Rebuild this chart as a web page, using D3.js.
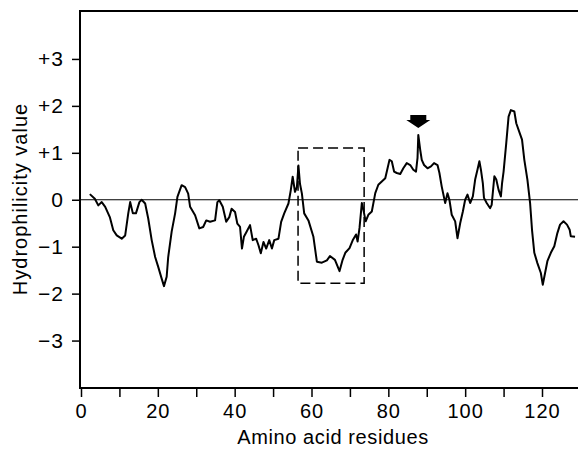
<!DOCTYPE html>
<html lang="en">
<head>
    <meta charset="UTF-8">
    <title>Hydrophilicity plot</title>
    <style>
        body { margin: 0; background: #fff; }
        text { font-family: "Liberation Sans", Arial, Helvetica, sans-serif; fill: #000; }
    </style>
</head>
<body>
<script src="https://d3js.org/d3.v7.min.js"></script>

<div id="my_data"></div>

<script type="text/javascript">

    // residue position (x) and hydrophilicity value (y)
    var residues = [
        2.3, 3.6, 4.5, 5.4, 6.3, 7.5, 8.4, 9.3, 10.6, 11.5, 12.3, 12.8, 13.5, 14.3, 15.2, 15.8,
        16.7, 17.5, 18.4, 19.3, 20.1, 21.0, 21.6, 22.3, 22.7, 23.6, 24.5, 25.1, 26.2, 27.1,
        27.9, 28.4, 29.7, 30.8, 31.8, 32.6, 33.6, 34.9, 35.5, 36.0, 36.9, 37.8, 38.6, 39.2,
        40.1, 40.7, 41.4, 41.9, 42.4, 43.1, 44.0, 44.7, 45.6, 46.2, 46.8, 47.5, 48.2, 49.0,
        49.7, 50.3, 51.4, 52.1, 52.9, 54.0, 54.6, 55.1, 55.7, 56.2, 56.6, 57.0, 57.5, 58.1,
        59.2, 60.5, 61.4, 62.7, 64.0, 64.8, 66.1, 67.3, 68.1, 68.8, 69.9, 70.8, 71.6, 72.0,
        72.5, 73.1, 73.5, 74.1, 74.8, 75.7, 76.6, 77.4, 78.3, 79.2, 79.8, 80.3, 80.9, 81.5,
        82.2, 83.1, 83.9, 84.8, 85.7, 86.5, 87.2, 87.6, 87.8, 88.3, 88.7, 89.3, 90.2, 91.1,
        91.9, 92.8, 93.3, 93.9, 94.8, 95.4, 95.9, 96.5, 97.4, 98.0, 98.7, 99.4, 100.0, 100.6,
        101.3, 102.0, 102.6, 103.2, 103.7, 104.1, 104.6, 104.9, 105.6, 106.5, 106.9, 107.6,
        108.1, 108.7, 109.3, 109.6, 110.0, 110.7, 111.3, 111.9, 112.8, 113.3, 114.2, 114.8,
        115.4, 116.2, 116.9, 117.4, 118.0, 118.8, 119.7, 120.2, 120.8, 121.4, 122.3, 123.2,
        124.0, 124.7, 125.6, 126.5, 127.2, 127.5, 128.6
    ];
    var values = [
        0.12, 0.02, -0.12, -0.05, -0.15, -0.37, -0.65, -0.76, -0.83, -0.76, -0.29, -0.05, -0.29, -0.29, -0.05, 0.0,
        -0.08, -0.4, -0.86, -1.22, -1.43, -1.68, -1.84, -1.64, -1.22, -0.68, -0.29, 0.06, 0.31, 0.27,
        0.13, -0.15, -0.33, -0.61, -0.58, -0.44, -0.47, -0.44, -0.05, -0.01, -0.15, -0.47, -0.37, -0.19,
        -0.26, -0.51, -0.58, -1.04, -0.79, -0.68, -0.54, -0.86, -0.83, -0.97, -1.14, -0.9, -1.04, -0.86,
        -1.04, -0.86, -0.83, -0.47, -0.29, -0.08, 0.2, 0.49, 0.17, 0.27, 0.73, 0.34, 0.13, -0.29,
        -0.44, -0.79, -1.32, -1.34, -1.29, -1.2, -1.28, -1.52, -1.28, -1.13, -1.03, -0.85, -0.74, -0.89,
        -0.6, -0.07, -0.21, -0.46, -0.32, -0.25, 0.14, 0.32, 0.39, 0.46, 0.67, 0.85, 0.82, 0.6,
        0.57, 0.55, 0.67, 0.78, 0.74, 0.64, 0.6, 0.89, 1.38, 1.06, 0.85, 0.74, 0.67, 0.71,
        0.78, 0.74, 0.57, 0.28, -0.07, 0.14, 0.0, -0.32, -0.46, -0.82, -0.5, -0.25, 0.0, 0.11,
        -0.07, 0.07, 0.43, 0.64, 0.82, 0.64, 0.35, 0.04, -0.07, -0.18, -0.11, 0.5,
        0.43, 0.21, 0.07, 0.35, 0.6, 1.21, 1.77, 1.91, 1.88, 1.63, 1.42, 1.28,
        0.85, 0.43, -0.07, -0.64, -1.13, -1.35, -1.56, -1.81, -1.56, -1.31, -1.13, -0.99,
        -0.71, -0.53, -0.46, -0.53, -0.64, -0.78, -0.79
    ];

    // tick labels
    var xTicks = [0, 10, 20, 30, 40, 50, 60, 70, 80, 90, 100, 110, 120];
    var xLabels = ["0", "", "20", "", "40", "", "60", "", "80", "", "100", "", "120"];
    var yTicks = [3, 2, 1, 0, -1, -2, -3];
    var yLabels = ["+3", "+2", "+1", "0", "\u22121", "\u22122", "\u22123"];

    // boxed region and arrow mark
    var boxResidues = [56.5, 73.7];
    var boxValues = [1.1, -1.78];
    var arrowResidue = 87.8;
    var arrowValue = 1.53;

    var width = 578,
        height = 451;

    var svg = d3
        .select("#my_data")
        .append("svg")
        .attr("width", width)
        .attr("height", height);

    var x = d3.scaleLinear().domain([0, 120]).range([81, 542]);
    var y = d3.scaleLinear().domain([-4, 4]).range([387.5, 12]);

    // plot frame edges (avoid the global window.top name)
    var frameLeft = 80, frameRight = width, frameTop = 11, frameBottom = 388;

    function styleAxis(g) {
        g.select(".domain").remove();
        g.selectAll("line").attr("stroke", "#000").attr("stroke-width", 1.5);
        g.selectAll("text")
            .attr("fill", "#000")
            .style("font-family", "'Liberation Sans', Arial, sans-serif")
            .style("letter-spacing", "1px");
    }

    // x axis
    svg
        .append("g")
        .attr("transform", "translate(0," + frameBottom + ")")
        .style("font-size", "20px")
        .call(
            d3.axisBottom(x)
                .tickValues(xTicks)
                .tickSize(9)
                .tickPadding(7)
                .tickFormat(function(d, i) { return xLabels[i]; })
        )
        .call(styleAxis);

    // y axis
    svg
        .append("g")
        .attr("transform", "translate(" + frameLeft + ",0)")
        .style("font-size", "21px")
        .call(
            d3.axisLeft(y)
                .tickValues(yTicks)
                .tickSize(8)
                .tickPadding(8)
                .tickFormat(function(d, i) { return yLabels[i]; })
        )
        .call(styleAxis);

    // frame: top, left, bottom
    svg
        .append("path")
        .attr("d", "M" + frameRight + "," + frameTop + "H" + frameLeft + "V" + frameBottom + "H" + frameRight)
        .attr("fill", "none")
        .attr("stroke", "#000")
        .attr("stroke-width", 2);

    // zero line
    svg
        .append("line")
        .attr("x1", frameLeft)
        .attr("x2", frameRight)
        .attr("y1", y(0))
        .attr("y2", y(0))
        .attr("stroke", "#000")
        .attr("stroke-width", 1.1);

    // dashed box
    svg
        .append("rect")
        .attr("x", x(boxResidues[0]))
        .attr("y", y(boxValues[0]))
        .attr("width", x(boxResidues[1]) - x(boxResidues[0]))
        .attr("height", y(boxValues[1]) - y(boxValues[0]))
        .attr("fill", "none")
        .attr("stroke", "#000")
        .attr("stroke-width", 1.5)
        .attr("stroke-dasharray", "10,5");

    // profile line
    var points = residues.map(function(r, i) { return [r, values[i]]; });
    var line = d3.line()
        .x(function(d) { return x(d[0]); })
        .y(function(d) { return y(d[1]); });

    svg
        .append("path")
        .datum(points)
        .attr("d", line)
        .attr("fill", "none")
        .attr("stroke", "#000")
        .attr("stroke-width", 2)
        .attr("stroke-linejoin", "round");

    // arrow
    svg
        .append("path")
        .attr("transform", "translate(" + x(arrowResidue) + "," + y(arrowValue) + ")")
        .attr("d", "M-8,-13L8,-13L8,-8L12,-8L0,0L-12,-8L-8,-8Z")
        .attr("fill", "#000");

    // axis titles
    svg
        .append("text")
        .attr("x", 333)
        .attr("y", 444)
        .attr("text-anchor", "middle")
        .style("font-size", "20px")
        .style("letter-spacing", "0.6px")
        .text("Amino acid residues");

    svg
        .append("text")
        .attr("transform", "translate(27,199) rotate(-90)")
        .attr("text-anchor", "middle")
        .style("font-size", "20px")
        .style("letter-spacing", "1px")
        .text("Hydrophilicity value");

</script>
</body>
</html>
